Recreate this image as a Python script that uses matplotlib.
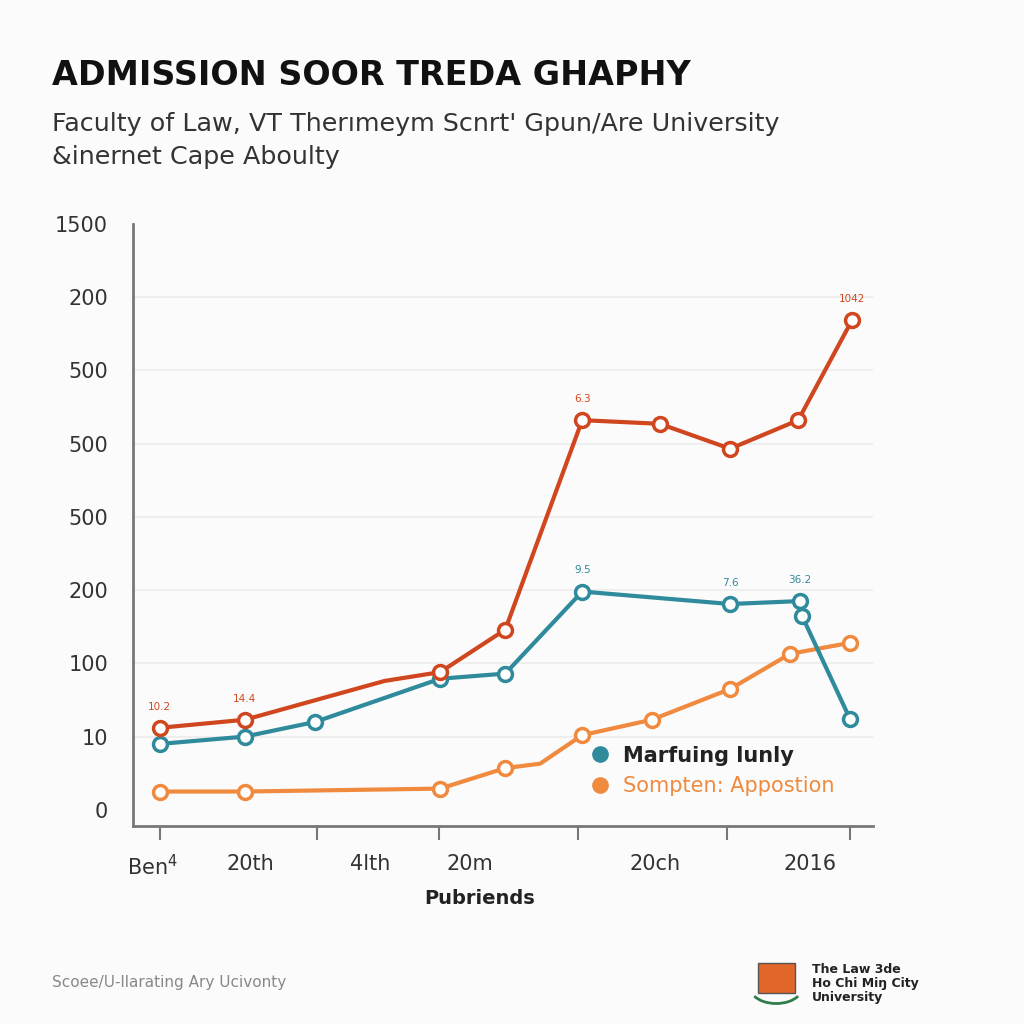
import matplotlib.pyplot as plt
from matplotlib.patches import Rectangle, Arc

# data (x on a 0-100 axis scale, y on the index scale of the y tick labels)
red_x = [3.6, 15.1, 34.0, 41.5, 50.3, 60.7, 71.2, 80.7, 89.9, 97.2]
red_y = [1.12, 1.23, 1.76, 1.88, 2.46, 5.32, 5.27, 4.93, 5.32, 6.69]
red_marked = [True, True, False, True, True, True, True, True, True, True]

teal_x = [3.6, 15.1, 24.6, 41.5, 50.3, 60.7, 80.7, 90.1, 90.4, 96.9]
teal_y = [0.90, 1.00, 1.20, 1.79, 1.86, 2.98, 2.81, 2.85, 2.65, 1.24]

orange_x = [3.6, 15.1, 41.5, 50.3, 55.0, 60.7, 70.1, 80.7, 88.8, 96.9]
orange_y = [0.25, 0.25, 0.29, 0.57, 0.63, 1.02, 1.23, 1.65, 2.13, 2.28]
orange_marked = [True, True, True, True, False, True, True, True, True, True]

red_labels = {0: '10.2', 1: '14.4', 5: '6.3', 9: '1042'}
teal_labels = {5: '9.5', 6: '7.6', 7: '36.2'}

ytick_labels = ['0', '10', '100', '200', '500', '500', '500', '200', '1500']
xtick_pos = [3.65, 24.9, 41.4, 60.1, 80.3, 96.9]
xlabel_pos = [2.6, 15.8, 32.0, 45.5, 70.5, 91.5]
xlabels = ['Ben$^4$', '20th', '4lth', '20m', '20ch', '2016']

RED = '#d0461e'
TEAL = '#2f8a9c'
ORANGE = '#ef8a3f'
BG = '#fbfbfb'

fig = plt.figure(figsize=(10.24, 10.24), dpi=100, facecolor=BG)
ax = fig.add_axes([0.130, 0.1934, 0.7225, 0.588], facecolor=BG)

for i in range(1, 8):
    ax.axhline(i, color='#ececec', lw=1.2, zorder=0)

def draw(xs, ys, color, marked=None):
    ax.plot(xs, ys, color=color, lw=3, zorder=2, solid_capstyle='round')
    if marked is None:
        marked = [True] * len(xs)
    mx = [x for x, m in zip(xs, marked) if m]
    my = [y for y, m in zip(ys, marked) if m]
    ax.plot(mx, my, 'o', ms=10, mfc='white', mec=color, mew=2.5, zorder=3)

draw(orange_x, orange_y, ORANGE, orange_marked)
draw(teal_x, teal_y, TEAL)
draw(red_x, red_y, RED, red_marked)

for i, t in red_labels.items():
    ax.text(red_x[i], red_y[i] + 0.22, t, color=RED, fontsize=7.5, ha='center', va='bottom')
for i, t in teal_labels.items():
    ax.text(teal_x[i], teal_y[i] + 0.22, t, color=TEAL, fontsize=7.5, ha='center', va='bottom')

ax.set_xlim(0, 100)
ax.set_ylim(-0.22, 8.0)
ax.set_yticks(range(9))
ax.set_yticklabels(ytick_labels, fontsize=15, color='#333333')
ax.tick_params(axis='y', length=0, pad=18)

ax.set_xticks(xtick_pos)
ax.set_xticklabels([''] * len(xtick_pos))
ax.tick_params(axis='x', which='major', length=10, width=1.5, color='#777777')
ax.set_xticks(xlabel_pos, minor=True)
ax.set_xticklabels(xlabels, minor=True, fontsize=15, color='#333333')
ax.tick_params(axis='x', which='minor', length=0, pad=20)
ax.set_xlabel('Pubriends', fontsize=14, fontweight='bold', color='#222222')
ax.xaxis.set_label_coords(0.468, -0.105)

for s in ['top', 'right']:
    ax.spines[s].set_visible(False)
for s in ['left', 'bottom']:
    ax.spines[s].set_color('#777777')
    ax.spines[s].set_linewidth(2)

# legend
h1, = ax.plot([], [], 'o', color=TEAL, ms=11)
h2, = ax.plot([], [], 'o', color=ORANGE, ms=11)
leg = ax.legend([h1, h2], ['Marfuing lunly', 'Sompten: Appostion'],
                loc='lower left', bbox_to_anchor=(0.58, 0.022), frameon=False,
                fontsize=15, handletextpad=0.1, labelspacing=0.5, borderpad=0.3,
                labelcolor=['#222222', ORANGE])
leg.get_texts()[0].set_fontweight('bold')

# titles
fig.text(0.051, 0.926, 'ADMISSION SOOR TREDA GHAPHY', fontsize=24, fontweight='bold',
         color='#111111', va='center')
fig.text(0.051, 0.879, "Faculty of Law, VT Therımeym Scnrt' Gpun/Are University",
         fontsize=18.3, color='#333333', va='center')
fig.text(0.051, 0.847, '&inernet Cape Aboulty', fontsize=18.3, color='#333333', va='center')

# footer
fig.text(0.051, 0.041, 'Scoee/U-llarating Ary Ucivonty', fontsize=11, color='#888888', va='center')
fig.patches.append(Rectangle((0.740, 0.030), 0.036, 0.030, transform=fig.transFigure,
                             facecolor='#e2662a', edgecolor='#555555', lw=1))
fig.patches.append(Arc((0.758, 0.035), 0.05, 0.03, theta1=200, theta2=340,
                       transform=fig.transFigure, color='#2f7d4a', lw=2))
fig.text(0.793, 0.040, 'The Law 3de\nHo Chi Miŋ City\nUniversity', fontsize=9,
         fontweight='bold', color='#222222', va='center', linespacing=1.1)

fig.savefig('out.png', dpi=100, facecolor=BG)
